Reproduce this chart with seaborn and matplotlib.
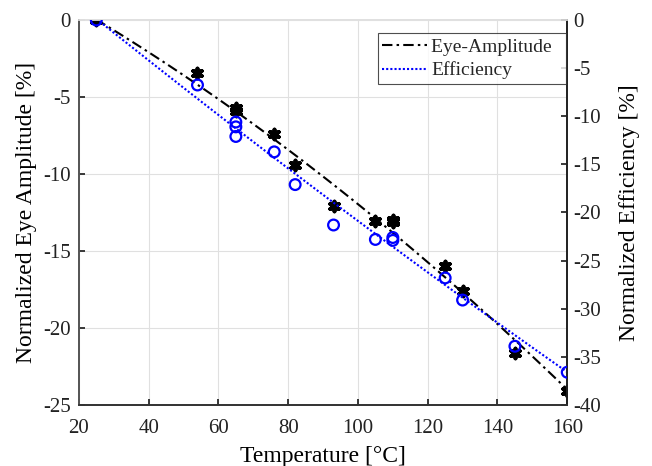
import numpy as np
import pandas as pd
import matplotlib
matplotlib.use("Agg")
import matplotlib.pyplot as plt
import seaborn as sns
from matplotlib.lines import Line2D

sns.set_theme(style="white")
plt.rcParams["font.family"] = ["Liberation Serif", "DejaVu Serif"]
plt.rcParams["axes.unicode_minus"] = False

# eye amplitude (left axis)
eye_temp = [25, 54, 65, 65, 76, 82, 93, 105, 110, 110, 125, 130, 145, 160]
eye_amp = [0, -3.45, -5.7, -5.9, -7.4, -9.4, -12.1, -13.05, -13.0, -13.1, -15.95, -17.6, -21.6, -24.1]

# efficiency (right axis)
eff_temp = [25, 54, 65, 65, 65, 76, 82, 93, 105, 110, 110, 125, 130, 145, 160]
eff_val = [0, -6.75, -10.6, -11.1, -12.1, -13.7, -17.1, -21.3, -22.8, -22.6, -22.9, -26.8, -29.1, -33.9, -36.6]

# points
fit_eye_temp = [25, 51.8, 69.1, 82.9, 92, 100.6, 112.1, 129.3, 140.8, 152.3, 159.9]
fit_eye_val = [0, -3.79, -6.45, -9.09, -10.7, -12.0, -14.2, -17.53, -19.9, -22.08, -24.2]
fit_eff_temp = [25, 63.3, 69.1, 100.6, 112.1, 129.3, 152.3, 159.9]
fit_eff_val = [0, -10.56, -12.3, -21.1, -24.2, -28.9, -34.5, -36.5]

dashdot = (0, (5, 2, 1.2, 2))
dotted = (0, (1, 1))

fig = plt.figure(figsize=(6.52, 4.66), dpi=100)
ax = fig.add_axes([0.121, 0.131, 0.749, 0.826])
ax2 = ax.twinx()

sns.regplot(x=fit_eye_temp, y=fit_eye_val, order=2, ci=None, scatter=False, ax=ax,
            line_kws=dict(color="black", lw=1.5, ls=dashdot), truncate=True)
sns.scatterplot(x=eye_temp, y=eye_amp, ax=ax, marker=(6, 2, 0), s=50,
                color="black", edgecolor="black", linewidth=2.8, zorder=3)

sns.regplot(x=fit_eff_temp, y=fit_eff_val, order=2, ci=None, scatter=False, ax=ax2,
            line_kws=dict(color="blue", lw=1.5, ls=dotted), truncate=True)
sns.scatterplot(x=eff_temp, y=eff_val, ax=ax2, marker="o", s=60,
                facecolor="none", edgecolor="blue", linewidth=1.6, zorder=3)

ax.set_xlim(20, 160)
ax.set_ylim(-25, 0)
ax2.set_ylim(-40, 0)
ax.set_xticks(np.arange(20, 161, 20))
ax.set_yticks(np.arange(-25, 1, 5))
ax2.set_yticks(np.arange(-40, 1, 5))

ax.grid(True, color="#e0e0e0", lw=0.8)
ax.set_axisbelow(True)
for a in (ax, ax2):
    a.spines["top"].set_color("#e0e0e0")
    a.spines["left"].set_color("#555555")
    a.spines["bottom"].set_color("#333333")
    a.spines["right"].set_color("#222222")
    a.tick_params(direction="in", length=4, labelsize=15, colors="#222222")
ax.tick_params(axis="x", pad=10)
ax.tick_params(axis="y", pad=6)
ax.tick_params(top=False, right=False, left=True, bottom=True)
ax2.tick_params(left=False, right=True, pad=4)

ax.set_xlabel("Temperature [°C]", fontsize=17, color="black", labelpad=6)
ax.set_ylabel("Normalized Eye Amplitude [%]", fontsize=17, color="black", labelpad=4)
ax2.set_ylabel("Normalized Efficiency [%]", fontsize=17, color="black", labelpad=13)

handles = [Line2D([], [], color="black", lw=1.5, ls=dashdot),
           Line2D([], [], color="blue", lw=1.5, ls=dotted)]
leg = ax2.legend(handles, ["Eye-Amplitude  ", "Efficiency"], loc="upper right",
                 bbox_to_anchor=(0.998, 0.966), fontsize=14, frameon=True,
                 fancybox=False, handlelength=2.3, handletextpad=0.2,
                 borderpad=0.25, borderaxespad=0, labelspacing=0.3)
leg.get_frame().set_edgecolor("#222222")
leg.get_frame().set_linewidth(0.8)

fig.savefig("out.png", dpi=100)
